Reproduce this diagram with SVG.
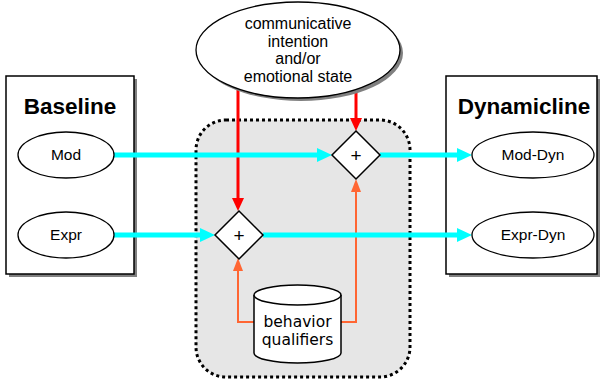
<svg xmlns="http://www.w3.org/2000/svg" width="602" height="382" viewBox="0 0 602 382">
<style>
.box{fill:#fff;stroke:#000;stroke-width:1.5}
.shadow{fill:#808080}
.ell{fill:#fff;stroke:#000;stroke-width:1.3}
.title{font-family:"Liberation Sans",Arial,sans-serif;font-weight:bold;font-size:22.5px;text-anchor:middle}
.lbl{font-family:"Liberation Sans",Arial,sans-serif;font-size:15.5px;text-anchor:middle}
.top{font-family:"Liberation Sans",Arial,sans-serif;font-size:16px;text-anchor:middle}
.cyl{font-family:"DejaVu Sans",Verdana,sans-serif;font-size:15.5px;text-anchor:middle}
.dia{fill:#fff;stroke:#000;stroke-width:1.5}
.plus{font-family:"Liberation Sans",Arial,sans-serif;font-size:19px;text-anchor:middle}
.cyan{stroke:#00ffff;stroke-width:5;fill:none}
.cyanh{fill:#00ffff}
.red{stroke:#ff0000;stroke-width:3;fill:none}
.redh{fill:#ff0000}
.org{stroke:#ff6633;stroke-width:2;fill:none}
.orgh{fill:#ff6633}
</style>
<g id="region">
<rect x="196" y="120" width="214" height="257" rx="30" ry="30" fill="#e6e6e6" stroke="#000" stroke-width="3" stroke-dasharray="3 3"/>
</g>
<g id="baseline">
<rect class="shadow" x="9" y="79" width="128" height="198"/>
<rect class="box" x="6" y="76" width="128" height="198"/>
<text class="title" x="70" y="114">Baseline</text>
</g>
<g id="dynamicline">
<rect class="shadow" x="449" y="79" width="151" height="198"/>
<rect class="box" x="446" y="76" width="151" height="198"/>
<text class="title" x="524" y="114">Dynamicline</text>
</g>
<g id="connectors">
<line class="red" x1="238" y1="85" x2="238" y2="199"/>
<polygon class="redh" points="232,198 244,198 238,211"/>
<line class="red" x1="356" y1="85" x2="356" y2="119"/>
<polygon class="redh" points="350,118 362,118 356,131"/>
<polyline class="org" points="254,322 238,322 238,270"/>
<polygon class="orgh" points="233,271 243,271 238,258"/>
<polyline class="org" points="341,322 356,322 356,191"/>
<polygon class="orgh" points="351,192 361,192 356,179"/>
<line class="cyan" x1="114" y1="155" x2="319" y2="155"/>
<polygon class="cyanh" points="317,148 332,155 317,162"/>
<line class="cyan" x1="380" y1="155" x2="459" y2="155"/>
<polygon class="cyanh" points="457,148 472,155 457,162"/>
<line class="cyan" x1="114" y1="235" x2="202" y2="235"/>
<polygon class="cyanh" points="200,228 215,235 200,242"/>
<line class="cyan" x1="263" y1="235" x2="459" y2="235"/>
<polygon class="cyanh" points="457,228 472,235 457,242"/>
</g>
<g id="intent">
<ellipse class="shadow" cx="301" cy="53" rx="102" ry="48"/>
<ellipse class="ell" cx="298" cy="50" rx="102" ry="48"/>
<text class="top" x="298" y="29">communicative</text>
<text class="top" x="298" y="47">intention</text>
<text class="top" x="298" y="64">and/or</text>
<text class="top" x="298" y="82">emotional state</text>
</g>
<g id="mod">
<ellipse class="ell" cx="66" cy="155" rx="48" ry="23"/>
<text class="lbl" x="66" y="160">Mod</text>
</g>
<g id="expr">
<ellipse class="ell" cx="66" cy="235" rx="48" ry="23"/>
<text class="lbl" x="66" y="240">Expr</text>
</g>
<g id="moddyn">
<ellipse class="ell" cx="533" cy="155" rx="61" ry="23"/>
<text class="lbl" x="533" y="160">Mod-Dyn</text>
</g>
<g id="exprdyn">
<ellipse class="ell" cx="533" cy="235" rx="61" ry="23"/>
<text class="lbl" x="533" y="240">Expr-Dyn</text>
</g>
<g id="plus1">
<polygon class="dia" points="356,131 380,155 356,179 332,155"/>
<text class="plus" x="356" y="162">+</text>
</g>
<g id="plus2">
<polygon class="dia" points="239,211 263,235 239,259 215,235"/>
<text class="plus" x="239" y="242">+</text>
</g>
<g id="qualifiers">
<path d="M254,295 L254,353 A43.5,10 0 0 0 341,353 L341,295" fill="#fff" stroke="#000" stroke-width="1.5"/>
<ellipse cx="297.5" cy="295" rx="43.5" ry="10" fill="#fff" stroke="#000" stroke-width="1.5"/>
<text class="cyl" x="297.5" y="327">behavior</text>
<text class="cyl" x="297.5" y="345">qualifiers</text>
</g>
</svg>
